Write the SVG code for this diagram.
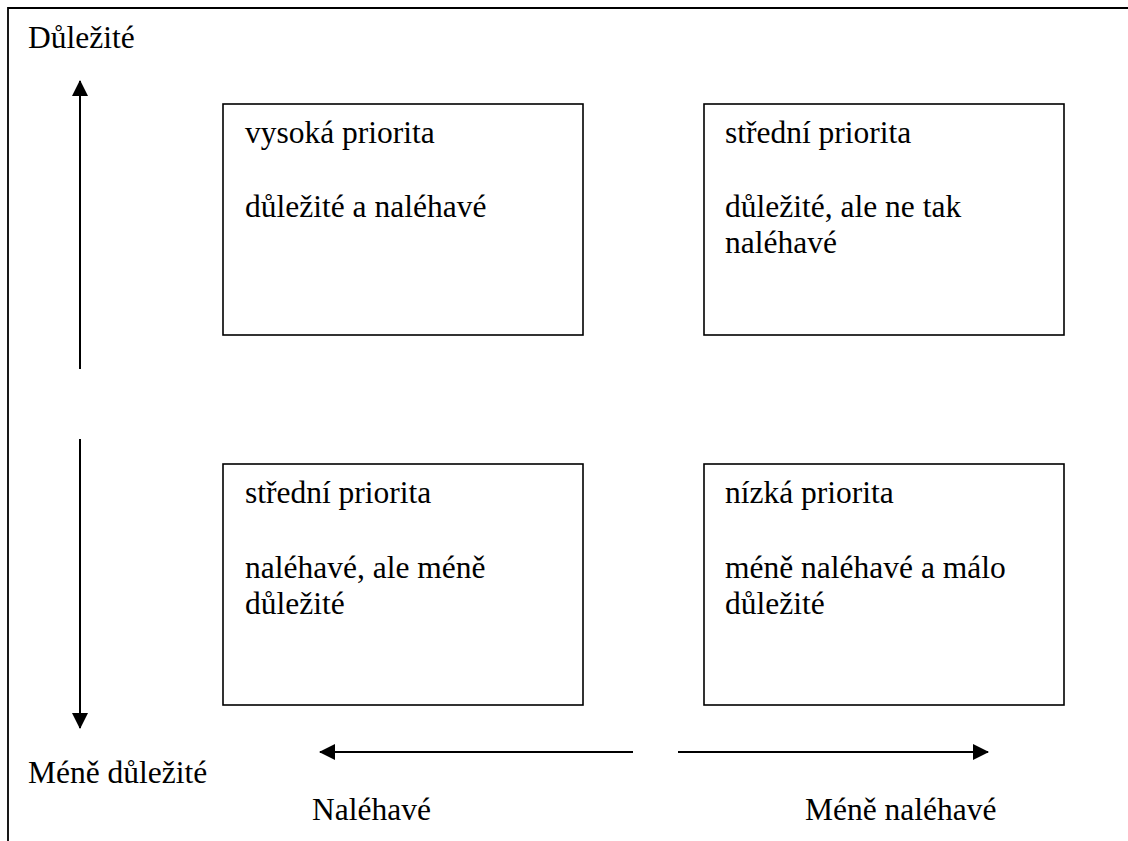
<svg xmlns="http://www.w3.org/2000/svg" width="1128" height="841" viewBox="0 0 1128 841">
<defs>
<marker id="ah" markerWidth="16" markerHeight="16" viewBox="0 0 16 16" refX="15" refY="8" orient="auto" markerUnits="userSpaceOnUse">
<path d="M0,0 L16,8 L0,16 Z" fill="#000"/>
</marker>
<style>
.box{fill:#fff;stroke:#000;stroke-width:1.6}
.frame{fill:none;stroke:#000;stroke-width:1.8}
.arr{stroke:#000;stroke-width:2;fill:none}
text{font-family:'Times New Roman','Liberation Serif',serif;font-size:31.5px;fill:#000}
</style>
</defs>
<rect width="1128" height="841" fill="#fff"/>
<path class="frame" d="M1128,8 L8,8 L8,841"/>
<g id="connectors">
<line class="arr" x1="80" y1="369" x2="80" y2="81" marker-end="url(#ah)"/>
<line class="arr" x1="80" y1="439" x2="80" y2="728" marker-end="url(#ah)"/>
<line class="arr" x1="633" y1="752" x2="320" y2="752" marker-end="url(#ah)"/>
<line class="arr" x1="678" y1="752" x2="988" y2="752" marker-end="url(#ah)"/>
</g>
<g id="labels">
<text x="28" y="48">Důležité</text>
<text x="28" y="783">Méně důležité</text>
<text x="312" y="820">Naléhavé</text>
<text x="805" y="820">Méně naléhavé</text>
</g>
<g id="q1">
<rect class="box" x="223" y="104" width="360" height="231"/>
<text x="245" y="143">vysoká priorita</text>
<text x="245" y="217">důležité a naléhavé</text>
</g>
<g id="q2">
<rect class="box" x="704" y="104" width="360" height="231"/>
<text x="725" y="143">střední priorita</text>
<text x="725" y="217">důležité, ale ne tak</text>
<text x="725" y="253">naléhavé</text>
</g>
<g id="q3">
<rect class="box" x="223" y="464" width="360" height="241"/>
<text x="245" y="503">střední priorita</text>
<text x="245" y="578">naléhavé, ale méně</text>
<text x="245" y="614">důležité</text>
</g>
<g id="q4">
<rect class="box" x="704" y="464" width="360" height="241"/>
<text x="725" y="503">nízká priorita</text>
<text x="725" y="578">méně naléhavé a málo</text>
<text x="725" y="614">důležité</text>
</g>
</svg>
